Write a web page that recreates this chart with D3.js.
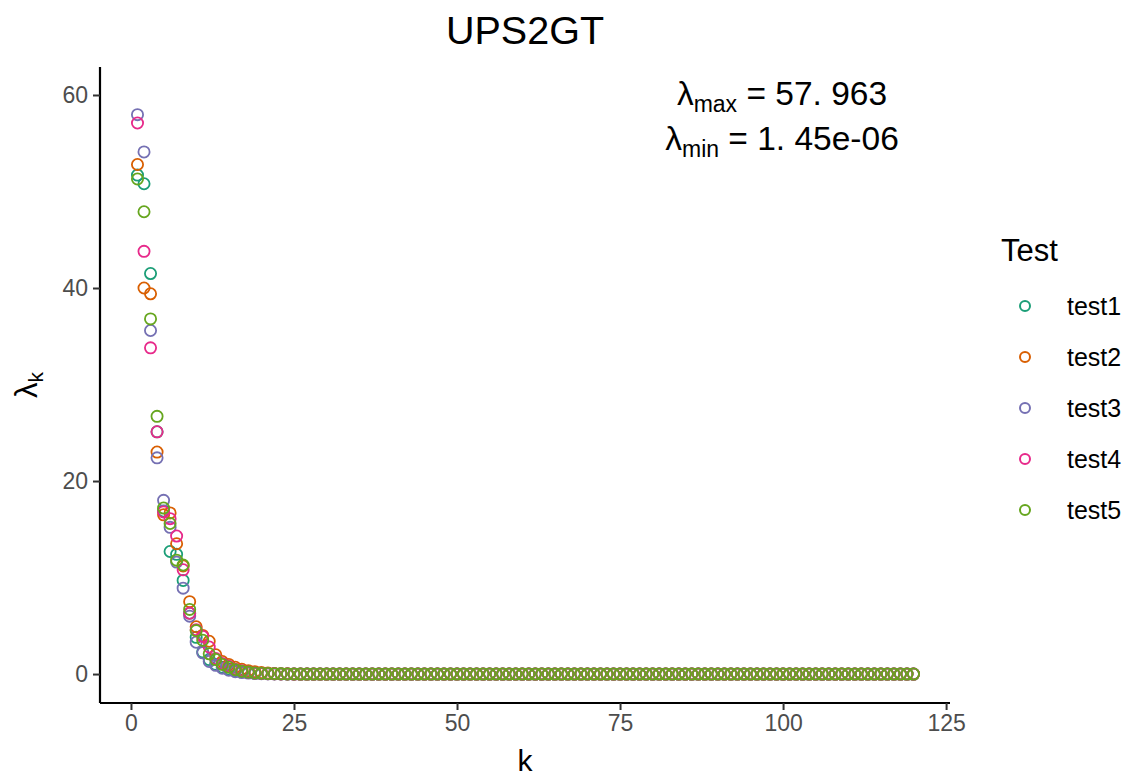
<!DOCTYPE html>
<html>
<head>
<meta charset="utf-8">
<script src="https://cdn.jsdelivr.net/npm/d3@7"></script>
<style>
  body { margin: 0; background: #fff; }
  text { font-family: "Liberation Sans", Arial, sans-serif; }
</style>
</head>
<body>
<svg id="chart" width="1129" height="776"></svg>
<script>
const seriesNames = ["test1", "test2", "test3", "test4", "test5"];
const seriesColors = ["#1B9E77", "#D95F02", "#7570B3", "#E7298A", "#66A61E"];
const xTicks = [0, 25, 50, 75, 100, 125];
const yTicks = [0, 20, 40, 60];

const test1 = [51.7, 50.8, 41.5, 25.1, 16.9, 12.7, 12.4, 9.7, 6.3, 3.8, 2.3, 1.5, 1.0, 0.7, 0.5, 0.35, 0.25, 0.15, 0.1, 0.06, 0.04, 0.03, 0.02, 0.01, 0.01,
  0,0,0,0,0,0,0,0,0,0,0,0,0,0,0,0,0,0,0, 0,0,0,0,0,0,0,0,0,0,0,0,0,0,0,0,0,0,0, 0,0,0,0,0,0,0,0,0,0,0,0,0,0,0,0,0,0,0,
  0,0,0,0,0,0,0,0,0,0,0,0,0,0,0,0,0,0,0, 0,0,0,0,0,0,0,0,0,0,0,0,0,0,0,0,0,0,0];
const test2 = [52.8, 40.0, 39.4, 23.0, 16.5, 16.7, 13.5, 11.2, 7.5, 4.9, 4.0, 3.4, 2.0, 1.3, 1.0, 0.7, 0.5, 0.35, 0.25, 0.15, 0.1, 0.05, 0.03, 0.02, 0.01,
  0,0,0,0,0,0,0,0,0,0,0,0,0,0,0,0,0,0,0, 0,0,0,0,0,0,0,0,0,0,0,0,0,0,0,0,0,0,0, 0,0,0,0,0,0,0,0,0,0,0,0,0,0,0,0,0,0,0,
  0,0,0,0,0,0,0,0,0,0,0,0,0,0,0,0,0,0,0, 0,0,0,0,0,0,0,0,0,0,0,0,0,0,0,0,0,0,0];
const test3 = [57.963, 54.1, 35.6, 22.4, 18.0, 15.2, 11.6, 8.9, 6.0, 3.3, 2.2, 1.3, 0.9, 0.6, 0.4, 0.25, 0.15, 0.1, 0.05, 0.03, 0.02, 0.01, 0.01, 0.0, 0.0,
  0,0,0,0,0,0,0,0,0,0,0,0,0,0,0,0,0,0,0, 0,0,0,0,0,0,0,0,0,0,0,0,0,0,0,0,0,0,0, 0,0,0,0,0,0,0,0,0,0,0,0,0,0,0,0,0,0,0,
  0,0,0,0,0,0,0,0,0,0,0,0,0,0,0,0,0,0,0, 0,0,0,0,0,0,0,0,0,0,0,0,0,0,0,0,0,0,0];
const test4 = [57.1, 43.8, 33.8, 25.1, 16.8, 16.1, 14.3, 10.8, 6.3, 4.6, 3.9, 2.8, 1.6, 1.1, 0.8, 0.5, 0.35, 0.2, 0.12, 0.07, 0.04, 0.02, 0.01, 0.01, 0.0,
  0,0,0,0,0,0,0,0,0,0,0,0,0,0,0,0,0,0,0, 0,0,0,0,0,0,0,0,0,0,0,0,0,0,0,0,0,0,0, 0,0,0,0,0,0,0,0,0,0,0,0,0,0,0,0,0,0,0,
  0,0,0,0,0,0,0,0,0,0,0,0,0,0,0,0,0,0,0, 0,0,0,0,0,0,0,0,0,0,0,0,0,0,0,0,0,0,0];
const test5 = [51.3, 47.9, 36.8, 26.7, 17.2, 15.6, 11.8, 11.3, 6.7, 4.5, 3.5, 2.1, 1.5, 1.0, 0.7, 0.45, 0.3, 0.2, 0.12, 0.08, 0.05, 0.03, 0.02, 0.01, 0.01,
  0,0,0,0,0,0,0,0,0,0,0,0,0,0,0,0,0,0,0, 0,0,0,0,0,0,0,0,0,0,0,0,0,0,0,0,0,0,0, 0,0,0,0,0,0,0,0,0,0,0,0,0,0,0,0,0,0,0,
  0,0,0,0,0,0,0,0,0,0,0,0,0,0,0,0,0,0,0, 0,0,0,0,0,0,0,0,0,0,0,0,0,0,0,0,0,0,0];
const seriesValues = [test1, test2, test3, test4, test5];

const svg = d3.select("#chart");
svg.append("rect").attr("width", 1129).attr("height", 776).attr("fill", "#fff");

const x = d3.scaleLinear().domain([-4.75, 125.6]).range([100, 950]);
const y = d3.scaleLinear().domain([-3.0, 62.9]).range([703, 67]);
const color = d3.scaleOrdinal().domain(seriesNames).range(seriesColors);

// points
const pts = [];
seriesNames.forEach((name, si) => {
  seriesValues[si].forEach((v, i) => pts.push({ series: name, k: i + 1, v }));
});
svg.append("g").selectAll("circle").data(pts).join("circle")
  .attr("cx", d => x(d.k)).attr("cy", d => y(d.v)).attr("r", 5.6)
  .attr("fill", "none").attr("stroke", d => color(d.series)).attr("stroke-width", 1.8);

// axes
const xAxis = svg.append("g").attr("transform", "translate(0,703)")
  .call(d3.axisBottom(x).tickValues(xTicks).tickSize(7).tickPadding(5));
const yAxis = svg.append("g").attr("transform", "translate(100,0)")
  .call(d3.axisLeft(y).tickValues(yTicks).tickSize(7).tickPadding(5));
[xAxis, yAxis].forEach(g => {
  g.select(".domain").attr("stroke", "#000").attr("stroke-width", 2.2);
  g.selectAll(".tick line").attr("stroke", "#333").attr("stroke-width", 2);
  g.selectAll(".tick text").attr("fill", "#4D4D4D").style("font-size", "23px")
    .style("font-family", "'Liberation Sans', Arial, sans-serif");
});
xAxis.select(".domain").attr("d", "M100,0H950");
yAxis.select(".domain").attr("d", "M0,67V703");

// title
svg.append("text").attr("x", 525).attr("y", 44).attr("text-anchor", "middle")
  .style("font-size", "39.5px").attr("fill", "#000").text("UPS2GT");

// axis titles
svg.append("text").attr("x", 525).attr("y", 771).attr("text-anchor", "middle")
  .style("font-size", "30px").text("k");
const yl = svg.append("text").attr("transform", "translate(37,385) rotate(-90)")
  .attr("text-anchor", "middle").style("font-size", "31px");
yl.append("tspan").text("λ");
yl.append("tspan").attr("dy", 6).style("font-size", "21px").text("k");

// annotation
const ann = [["max", "57. 963", 105], ["min", "1. 45e-06", 150]];
ann.forEach(([sub, val, yy]) => {
  const t = svg.append("text").attr("x", 782).attr("y", yy).attr("text-anchor", "middle")
    .style("font-size", "33.5px");
  t.append("tspan").text("λ");
  t.append("tspan").attr("dy", 7).style("font-size", "23px").text(sub);
  t.append("tspan").attr("dy", -7).text(" = " + val);
});

// legend
svg.append("text").attr("x", 1001).attr("y", 261).style("font-size", "31px").text("Test");
const lg = svg.append("g").selectAll("g").data(seriesNames).join("g")
  .attr("transform", (d, i) => `translate(0,${306 + i * 51})`);
lg.append("circle").attr("cx", 1025).attr("cy", 0).attr("r", 5)
  .attr("fill", "none").attr("stroke", d => color(d)).attr("stroke-width", 2);
lg.append("text").attr("x", 1067).attr("y", 9).style("font-size", "25px").text(d => d);
</script>
</body>
</html>
